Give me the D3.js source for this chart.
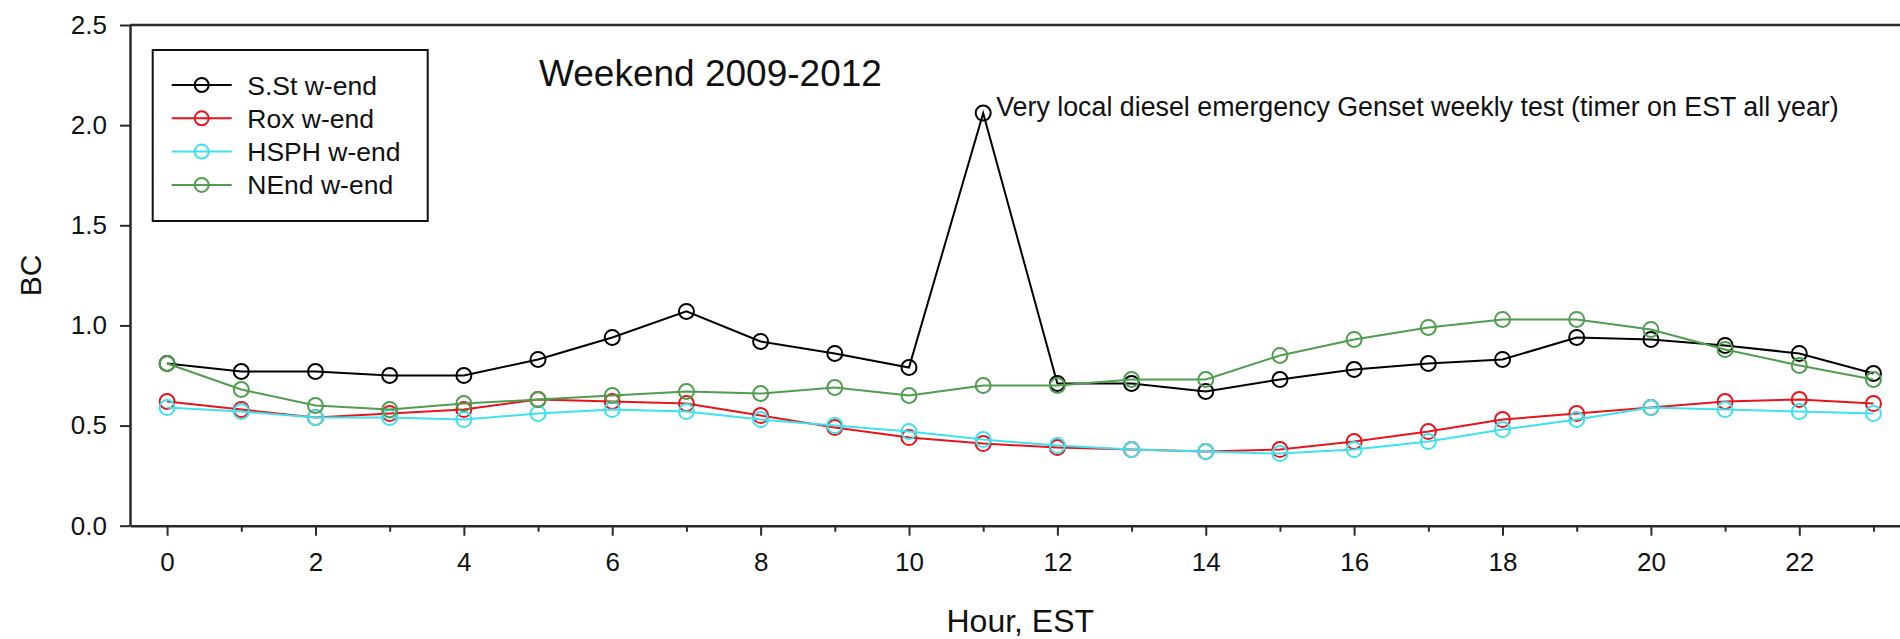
<!DOCTYPE html>
<html>
<head>
<meta charset="utf-8">
<script src="https://cdn.jsdelivr.net/npm/d3@7/dist/d3.min.js"></script>
<style>
  html, body { margin: 0; padding: 0; background: #fff; }
  svg { display: block; font-family: "Liberation Sans", Arial, Helvetica, sans-serif; }
</style>
</head>
<body>
<svg id="chart" width="1900" height="639"></svg>
<script>
// Hourly weekend black carbon (BC) averages, 2009-2012
const hours = d3.range(0, 24);
const sSt  = [0.81, 0.77, 0.77, 0.75, 0.75, 0.83, 0.94, 1.07, 0.92, 0.86, 0.79, 2.06,
              0.71, 0.71, 0.67, 0.73, 0.78, 0.81, 0.83, 0.94, 0.93, 0.90, 0.86, 0.76];
const rox  = [0.62, 0.58, 0.54, 0.56, 0.58, 0.63, 0.62, 0.61, 0.55, 0.49, 0.44, 0.41,
              0.39, 0.38, 0.37, 0.38, 0.42, 0.47, 0.53, 0.56, 0.59, 0.62, 0.63, 0.61];
const hsph = [0.59, 0.57, 0.54, 0.54, 0.53, 0.56, 0.58, 0.57, 0.53, 0.50, 0.47, 0.43,
              0.40, 0.38, 0.37, 0.36, 0.38, 0.42, 0.48, 0.53, 0.59, 0.58, 0.57, 0.56];
const nEnd = [0.81, 0.68, 0.60, 0.58, 0.61, 0.63, 0.65, 0.67, 0.66, 0.69, 0.65, 0.70,
              0.70, 0.73, 0.73, 0.85, 0.93, 0.99, 1.03, 1.03, 0.98, 0.88, 0.80, 0.73];

const seriesNames  = ["S.St w-end", "Rox w-end", "HSPH w-end", "NEnd w-end"];
const seriesValues = [sSt, rox, hsph, nEnd];
const seriesColors = ["#000000", "#e8141c", "#3ee2ee", "#4f9e4f"];

const yTicks = [0, 0.5, 1.0, 1.5, 2.0, 2.5];
const xMajorTicks = d3.range(0, 24, 2);
const xMinorTicks = d3.range(1, 24, 2);

const titleText = "Weekend 2009-2012";
const noteText = "Very local diesel emergency Genset weekly test (timer on EST all year)";
const noteHour = 11;

const svg = d3.select("#chart");

const plotLeft = 130, plotTop = 25, plotBottom = 525.7;
const hourStep = 74.19;
const x = d3.scaleLinear().domain([-0.5, 23.5]).range([plotLeft, plotLeft + 24 * hourStep]);
const y = d3.scaleLinear().domain([0, 2.5]).range([plotBottom, plotTop]);

const axisColor = "#2a2a2a";

// frame: top border line
svg.append("line")
  .attr("x1", plotLeft).attr("x2", x.range()[1])
  .attr("y1", plotTop).attr("y2", plotTop)
  .attr("stroke", axisColor).attr("stroke-width", 2.5);

// y axis
svg.append("g")
  .attr("transform", `translate(${plotLeft},0)`)
  .call(d3.axisLeft(y).tickValues(yTicks).tickFormat(d3.format(".1f"))
        .tickSize(10).tickSizeOuter(0).tickPadding(13));

// x axis major ticks
svg.append("g")
  .attr("transform", `translate(0,${plotBottom})`)
  .call(d3.axisBottom(x).tickValues(xMajorTicks).tickFormat(d3.format("d"))
        .tickSize(10).tickSizeOuter(0).tickPadding(17));

// x axis minor ticks
svg.append("g")
  .attr("transform", `translate(0,${plotBottom})`)
  .call(d3.axisBottom(x).tickValues(xMinorTicks).tickFormat("")
        .tickSize(6).tickSizeOuter(0))
  .select(".domain").remove();

svg.selectAll(".domain").attr("stroke", axisColor).attr("stroke-width", 2.5);
svg.selectAll(".tick line").attr("stroke", axisColor).attr("stroke-width", 2);
svg.selectAll(".tick text").attr("fill", "#111").attr("font-size", 26)
   .attr("font-family", "Liberation Sans, Arial, sans-serif");

// axis titles
svg.append("text")
  .attr("x", (plotLeft + x.range()[1]) / 2).attr("y", 632)
  .attr("text-anchor", "middle").attr("font-size", 32).attr("fill", "#111")
  .text("Hour, EST");

svg.append("text")
  .attr("transform", `translate(40.5,${(plotTop + plotBottom) / 2}) rotate(-90)`)
  .attr("text-anchor", "middle").attr("font-size", 30).attr("fill", "#111")
  .text("BC");

// series
const line = d3.line().x((d, i) => x(hours[i])).y(d => y(d));
const plot = svg.append("g");
seriesValues.forEach((vals, si) => {
  const g = plot.append("g");
  g.append("path")
    .datum(vals)
    .attr("d", line)
    .attr("fill", "none")
    .attr("stroke", seriesColors[si])
    .attr("stroke-width", 2);
  g.selectAll("circle")
    .data(vals)
    .join("circle")
    .attr("cx", (d, i) => x(hours[i]))
    .attr("cy", d => y(d))
    .attr("r", 7.5)
    .attr("fill", "none")
    .attr("stroke", seriesColors[si])
    .attr("stroke-width", 2);
});

// title
svg.append("text")
  .attr("x", 539).attr("y", 85.5)
  .attr("font-size", 37).attr("fill", "#111")
  .text(titleText);

// annotation next to the 11 h spike
svg.append("text")
  .attr("x", x(noteHour) + 13).attr("y", y(sSt[noteHour]) + 3)
  .attr("font-size", 26.8).attr("fill", "#111")
  .text(noteText);

// legend
const legend = svg.append("g");
legend.append("rect")
  .attr("x", 152.7).attr("y", 50).attr("width", 275).attr("height", 171)
  .attr("fill", "#fff").attr("stroke", "#111").attr("stroke-width", 2);
seriesNames.forEach((name, i) => {
  const cy = 85 + i * 33.3;
  legend.append("line")
    .attr("x1", 171.7).attr("x2", 231.7).attr("y1", cy).attr("y2", cy)
    .attr("stroke", seriesColors[i]).attr("stroke-width", 2);
  legend.append("circle")
    .attr("cx", 201.7).attr("cy", cy).attr("r", 7)
    .attr("fill", "none").attr("stroke", seriesColors[i]).attr("stroke-width", 2);
  legend.append("text")
    .attr("x", 247.3).attr("y", cy + 9.5)
    .attr("font-size", 26.5).attr("fill", "#111")
    .text(name);
});
</script>
</body>
</html>
